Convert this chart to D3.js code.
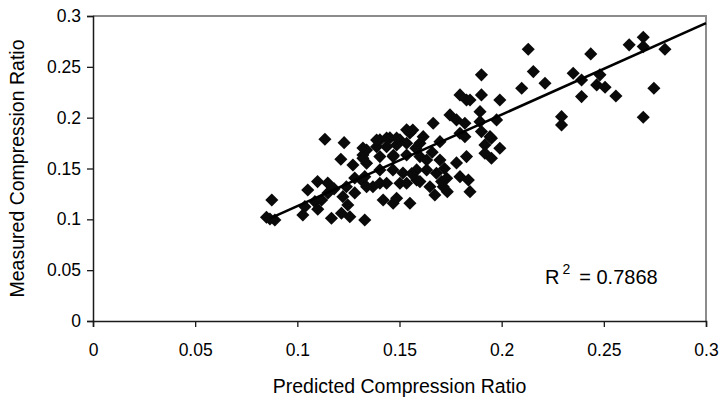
<!DOCTYPE html>
<html>
<head>
<meta charset="utf-8">
<script src="https://cdn.jsdelivr.net/npm/d3@7"></script>
<style>
  body { margin: 0; background: #fff; }
  svg { display: block; font-family: "Liberation Sans", Arial, sans-serif; }
</style>
</head>
<body>
<svg id="chart"></svg>
<script>
// predicted (x) vs measured (y) compression ratio
const predicted = [
  0.1135, 0.1229, 0.1213, 0.1272, 0.1321, 0.1321, 0.1099, 0.1149, 0.1051, 0.0875,
  0.0849, 0.0890, 0.1037, 0.1086, 0.1027, 0.1167, 0.1216, 0.1247, 0.1223, 0.1281,
  0.1314, 0.1281, 0.1330, 0.1257, 0.1119, 0.0866,
  0.1796, 0.1828, 0.1747, 0.1779, 0.1665, 0.1565, 0.1551, 0.1502, 0.1453, 0.1404,
  0.1388, 0.1437, 0.1486, 0.1535, 0.1600, 0.1698, 0.1698, 0.1779, 0.1828, 0.1796,
  0.1731, 0.1681, 0.1633, 0.1584, 0.1517, 0.1468, 0.1404, 0.1339, 0.1339, 0.1330,
  0.1370, 0.1437, 0.1502, 0.1584, 0.1649, 0.1714, 0.1404, 0.1469, 0.1535, 0.1600,
  0.1633,
  0.1339, 0.1404, 0.1535, 0.1600, 0.1420, 0.1469, 0.1486, 0.1551, 0.1673, 0.1734,
  0.1706, 0.1845,
  0.2130, 0.2155, 0.2212, 0.2098, 0.1901, 0.1901, 0.1845, 0.1991, 0.1894, 0.1975,
  0.1894, 0.1901, 0.1950, 0.1918, 0.1991, 0.1950, 0.1918, 0.1820, 0.1820, 0.2350,
  0.2391, 0.2391, 0.2293, 0.2293, 0.1616, 0.1796, 0.1943,
  0.2693, 0.2624, 0.2693, 0.2799, 0.2436, 0.2481, 0.2465, 0.2506, 0.2559, 0.2745,
  0.2693, 0.1837, 0.1321, 0.1388, 0.1437, 0.1486, 0.1535, 0.1150, 0.1180,
  0.1240, 0.1100, 0.1580, 0.1660, 0.1720, 0.1470, 0.1560
];
const measured = [
  0.1788, 0.1754, 0.1591, 0.1535, 0.1633, 0.1702, 0.1371, 0.1358, 0.1289, 0.1190,
  0.1020, 0.0994, 0.1125, 0.1174, 0.1043, 0.1011, 0.1060, 0.1141, 0.1223, 0.1260,
  0.1387, 0.1407, 0.0994, 0.1026, 0.1190, 0.1003,
  0.2224, 0.2174, 0.2027, 0.1978, 0.1945, 0.1879, 0.1850, 0.1781, 0.1801, 0.1781,
  0.1715, 0.1715, 0.1732, 0.1749, 0.1749, 0.1764, 0.1584, 0.1555, 0.1617, 0.1420,
  0.1404, 0.1453, 0.1486, 0.1486, 0.1456, 0.1486, 0.1486, 0.1552, 0.1682, 0.1420,
  0.1321, 0.1355, 0.1355, 0.1387, 0.1321, 0.1321, 0.1617, 0.1617, 0.1633, 0.1617,
  0.1584,
  0.1321, 0.1355, 0.1355, 0.1371, 0.1190, 0.1158, 0.1207, 0.1158, 0.1240, 0.1272,
  0.1371, 0.1272,
  0.2673, 0.2453, 0.2339, 0.2290, 0.2421, 0.2224, 0.2174, 0.2174, 0.2059, 0.1978,
  0.1961, 0.1863, 0.1797, 0.1732, 0.1699, 0.1601, 0.1650, 0.1813, 0.1945, 0.2437,
  0.2371, 0.2207, 0.2010, 0.1929, 0.1813, 0.1847, 0.1813,
  0.2791, 0.2716, 0.2699, 0.2673, 0.2627, 0.2421, 0.2322, 0.2299, 0.2213, 0.2289,
  0.2004, 0.1387, 0.1600, 0.1780, 0.1800, 0.1800, 0.1880, 0.1260, 0.1300,
  0.1320, 0.1100, 0.1700, 0.1660, 0.1500, 0.1630, 0.1450
];

// linear trend line end points and its R squared
const trendX = [0.0866, 0.3];
const trendY = [0.1010, 0.2930];
const rSquared = '0.7868';

const ticks = [0, 0.05, 0.1, 0.15, 0.2, 0.25, 0.3];
const tickLabels = ['0', '0.05', '0.1', '0.15', '0.2', '0.25', '0.3'];

const width = 724, height = 403;
const margin = { top: 16, right: 18, bottom: 82, left: 93 };

const svg = d3.select('#chart')
  .attr('width', width)
  .attr('height', height);

const xScale = d3.scaleLinear()
  .domain([0, 0.3])
  .range([margin.left, width - margin.right]);

const yScale = d3.scaleLinear()
  .domain([0, 0.3])
  .range([height - margin.bottom, margin.top]);

// plot frame: top and right sides are grey
svg.append('path')
  .attr('d', `M${xScale(0)},${yScale(0.3)}H${xScale(0.3)}V${yScale(0)}`)
  .attr('fill', 'none')
  .attr('stroke', '#8c8c8c')
  .attr('stroke-width', 2);

const fmt = d => tickLabels[ticks.indexOf(d)];

const yAxis = d3.axisLeft(yScale)
  .tickValues(ticks)
  .tickFormat(fmt)
  .tickSize(6)
  .tickPadding(6);

svg.append('g')
  .attr('class', 'y-axis')
  .attr('transform', `translate(${margin.left}, 0)`)
  .call(yAxis);

const xAxis = d3.axisBottom(xScale)
  .tickValues(ticks)
  .tickFormat(fmt)
  .tickSize(6)
  .tickPadding(17);

svg.append('g')
  .attr('class', 'x-axis')
  .attr('transform', `translate(0, ${yScale(0)})`)
  .call(xAxis);

svg.selectAll('.x-axis, .y-axis')
  .style('font-size', '17.5px')
  .style('font-family', '"Liberation Sans", Arial, sans-serif');
svg.selectAll('.domain').attr('stroke', '#1a1a1a').attr('stroke-width', 1.5);
svg.selectAll('.tick line').attr('stroke', '#1a1a1a').attr('stroke-width', 1.3);
svg.selectAll('.tick text').attr('fill', '#000');

// points
const diamond = d3.symbol().type(d3.symbolSquare).size(86);

svg.append('g')
  .selectAll('path')
  .data(d3.range(predicted.length))
  .enter()
  .append('path')
  .attr('d', diamond)
  .attr('transform', i => `translate(${xScale(predicted[i])},${yScale(measured[i])}) rotate(45)`)
  .attr('fill', '#0a0a0a');

// trend line
svg.append('line')
  .attr('x1', xScale(trendX[0]))
  .attr('y1', yScale(trendY[0]))
  .attr('x2', xScale(trendX[1]))
  .attr('y2', yScale(trendY[1]))
  .attr('stroke', '#000')
  .attr('stroke-width', 2.6);

// R squared label
const rText = svg.append('text')
  .attr('x', 545)
  .attr('y', 284)
  .attr('font-size', '20px')
  .attr('fill', '#000');
rText.append('tspan').text('R');
rText.append('tspan').attr('dy', -10).attr('dx', 3).attr('font-size', '14px').text('2');
rText.append('tspan').attr('dy', 10).attr('dx', 9).text(`= ${rSquared}`);

// axis titles
svg.append('text')
  .attr('x', xScale(0.15))
  .attr('y', 393)
  .attr('text-anchor', 'middle')
  .attr('font-size', '19.5px')
  .text('Predicted Compression Ratio');

svg.append('text')
  .attr('transform', `translate(24, ${yScale(0.15)}) rotate(-90)`)
  .attr('text-anchor', 'middle')
  .attr('font-size', '19.5px')
  .text('Measured Compression Ratio');
</script>
</body>
</html>
